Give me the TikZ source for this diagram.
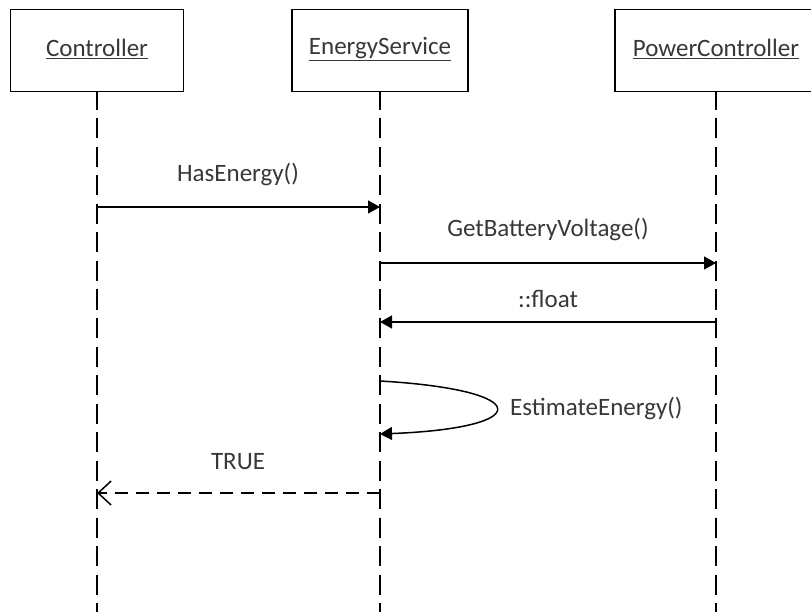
\documentclass[tikz,border=0pt]{standalone}
\usepackage{fontspec}
\setmainfont{Carlito}
\usetikzlibrary{arrows.meta}
\begin{document}
\begin{tikzpicture}[x=1pt,y=-1pt,
  every node/.style={font=\fontsize{25}{28}\selectfont, text=black!78},
  obj/.style={draw=black, line width=1.5pt, fill=white, minimum height=82pt, inner sep=0pt},
  life/.style={draw=black, line width=1.5pt, dash pattern=on 20pt off 8.5pt},
  msg/.style={draw=black, line width=1.5pt, -{Triangle[length=12pt,width=13pt]}},
  reply/.style={draw=black, line width=1.5pt, dash pattern=on 13pt off 8pt, -{Straight Barb[length=13pt,width=24pt,line width=1.5pt]}},
  lbl/.style={inner sep=0pt, anchor=center}]
  \clip (0,0) rectangle (811,612);
  \fill[white] (0,0) rectangle (811,612);

  % lifelines
  \coordinate (ctop) at (97,90);   \coordinate (cbot) at (97,612);
  \coordinate (etop) at (380,90);  \coordinate (ebot) at (380,612);
  \coordinate (ptop) at (716,90);  \coordinate (pbot) at (716,612);
  \draw[life] (ctop) -- (cbot);
  \draw[life] (etop) -- (ebot);
  \draw[life] (ptop) -- (pbot);

  % objects
  \node[obj, minimum width=173pt, anchor=north] (c) at (97,9) {};
  \node[obj, minimum width=176pt, anchor=north] (e) at (380,9) {};
  \node[obj, minimum width=216pt, anchor=north west] (p) at (614,9) {};
  \node[lbl] (ct) at (97,49) {\underline{Controller}};
  \node[lbl] (et) at (380,49) {\underline{EnergyService}};
  \node[lbl] (pt) at (716,49) {\underline{PowerController}};

  % message anchors on lifelines
  \coordinate (c1) at (97,207);  \coordinate (e1) at (380,207);
  \coordinate (e2) at (380,263); \coordinate (p2) at (716,263);
  \coordinate (p3) at (716,322); \coordinate (e3) at (380,322);
  \coordinate (e4) at (380,381); \coordinate (e5) at (380,434);
  \coordinate (e6) at (380,493); \coordinate (c6) at (97,493);

  \draw[msg] (c1) -- (e1);
  \node[lbl] (l1) at (238,175) {HasEnergy()};

  \draw[msg] (e2) -- (p2);
  \node[lbl] (l2) at (548,230) {GetBatteryVoltage()};

  \draw[msg] (p3) -- (e3);
  \node[lbl] (l3) at (548,299) {::float};

  \draw[msg] (e4) .. controls (535,390) and (535,428) .. (e5);
  \node[lbl, anchor=west] (l4) at (510,409) {EstimateEnergy()};

  \draw[reply] (e6) -- (c6);
  \node[lbl] (l5) at (238,462) {TRUE};
\end{tikzpicture}
\end{document}
